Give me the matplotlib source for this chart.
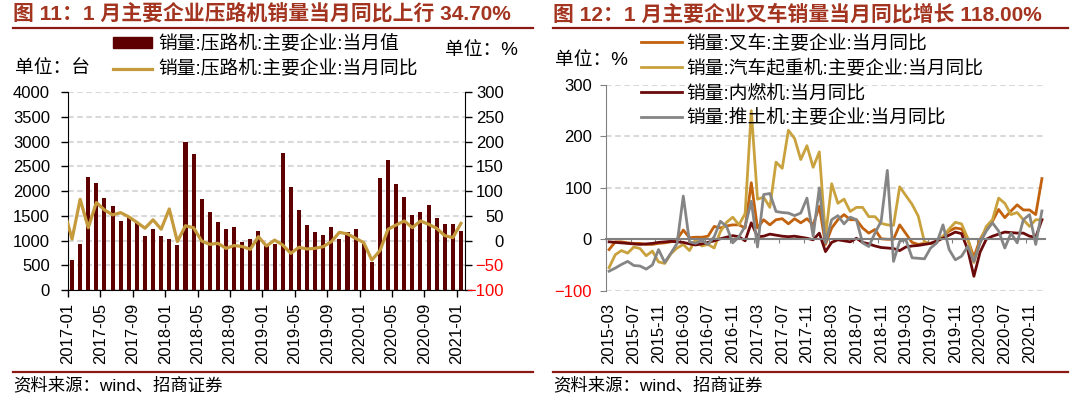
import numpy as np
import pandas as pd
import matplotlib
matplotlib.use("Agg")
import matplotlib.pyplot as plt
from matplotlib.lines import Line2D
from matplotlib.patches import Patch

plt.rcParams['font.family'] = ['Liberation Sans', 'Noto Sans CJK SC']

# ---- data: left chart (压路机), 2017-01 .. 2021-01 ----
roller_months = pd.date_range('2017-01', periods=49, freq='MS').strftime('%Y-%m').tolist()
roller_units = [614, 931, 2287, 2166, 1862, 1700, 1397, 1485, 1380, 1093, 1242, 1093,
                1032, 911, 2996, 2753, 1842, 1579, 1377, 1235, 1275, 972, 1032, 1194,
                890, 931, 2773, 2085, 1619, 1316, 1174, 1113, 1275, 1032, 1174, 1235,
                940, 574, 2267, 2632, 2146, 1883, 1518, 1579, 1721, 1457, 1336, 1336,
                1194]
# yoy line starts one month earlier (2016-12), it enters from the left axis
roller_yoy = [63,
              3, 83.5, 26, 77, 62, 52, 56.5, 48, 37, 25, 42, 23,
              64, -2, 30, 26, -1, -7.6, -5.5, -15.7, -10, -12, -17.7, 8,
              -11, 1, -9, -25.8, -13.6, -17, -15.7, -12.3, -2.2, 16.7, 13.4, 4.6,
              -4.2, -39.3, -20.4, 22.8, 31.6, 39.7, 26.2, 39.7, 33, 24.8, 10, 6,
              34.7]

# ---- data: right chart, 2015-03 .. 2021-01 ----
right_months = pd.date_range('2015-03', periods=71, freq='MS').strftime('%Y-%m').tolist()
forklift = [-20, -5, -5, -7, -8, -8, -10, -10, -8, -7, -5, 0, 18, 3, 4, 4, 6, 25, 22, 26, 28, 28, 22,
            110, 22, 38, 28, 38, 40, 30, 40, 32, 40, 28, 64, -10, 22, 38, 48, 38, 38, 22, 12, 19, 1, 0, 0,
            28, 11, -6, -10, -8, -8, -5, 6, 16, 22, 20, 0, -35, 0, 20, 35, 58, 42, 55, 67, 57, 57, 48, 118]
truck_crane = [-55, -30, -22, -27, -15, -18, -32, -23, -44, -47, -28, -17, -10, -22, 0, -13, -10, -17, 15, 33, 43, 28, 50,
               250, 78, 82, 62, 150, 138, 212, 196, 155, 182, 140, 170, 5, 108, 70, 78, 54, 62, 62, 44, 44, 31, 28, 27,
               102, 85, 68, 45, -5, -8, -5, 5, 20, 33, 30, 2, -45, -5, 25, 38, 80, 70, 48, 52, 38, 25, 38, 38]
engine = [-5, -6, -7, -8, -9, -10, -9, -8, -6, -5, -4, -5, -6, -9, -11, -9, -6, -3, 1, 4, 7, 5, -3,
          32, 5, 6, 10, 8, 6, 5, 6, 4, 2, -1, 12, -24, -6, -1, -3, -5, 2, -6, -9, -13, -16, -17, -18,
          -22, -15, -13, -12, -10, -8, -3, 2, 8, 14, 11, -20, -72, -25, 0, 6, 10, 14, 13, 12, 12, 6, 4, 38]
bulldozer = [-62, -56, -49, -43, -51, -52, -58, -50, -20, -45, -27, -8, 84, -5, -8, -2, -10, 5, 35, 25, -7, 5, 25,
             74, -15, 87, 89, 54, 52, 51, 46, 51, 80, 6, 100, -7, 38, 46, 30, 43, 38, -7, -14, 12, 35, 134, -43,
             -4, -1, -36, -37, -38, -17, -7, 28, -20, -40, -33, -14, -43, -7, 16, 32, 16, -17, 12, -7, 38, 48, -10, 55]

right_names = ['销量:叉车:主要企业:当月同比', '销量:汽车起重机:主要企业:当月同比',
               '销量:内燃机:当月同比', '销量:推土机:主要企业:当月同比']
right_colors = ['#C2620F', '#C9A23E', '#6B0A0A', '#858585']

title_left = '图 11：1 月主要企业压路机销量当月同比上行 34.70%'
title_right = '图 12：1 月主要企业叉车销量当月同比增长 118.00%'
source = '资料来源：wind、招商证券'

W, H = 1071, 399
fig = plt.figure(figsize=(W / 100, H / 100), dpi=100)


def fx(px):
    return px / W


def fy(py):
    return 1 - py / H


title_color = '#A3341F'
rule_color = '#8C1A14'
grid_kw = dict(color='#D9D9D9', linestyle=(0, (2.7, 1.7)), linewidth=1.5)
leg_fs = 13.5

# ---------------- left chart ----------------
ax1 = fig.add_axes([fx(68), fy(290), fx(465 - 68), (290 - 92.3) / H])
xl = np.arange(len(roller_units))
ax1.bar(xl, roller_units, width=0.5, color='#5E0000', zorder=2)
ax1.set_xlim(-0.5, len(roller_units) - 0.5)
ax1.set_ylim(0, 4000)
ax1.set_yticks(range(0, 4001, 500))
ax1.yaxis.grid(True, **grid_kw)
ax1.set_axisbelow(True)
ax1.set_xticks(np.arange(-0.5, len(roller_units), 4), roller_months[::4], rotation=90)
ax1.tick_params(axis='x', length=5, width=1, pad=4, labelsize=12)
ax1.tick_params(axis='y', length=5, width=1, pad=8, labelsize=12)
for s in ['top', 'right']:
    ax1.spines[s].set_visible(False)

ax2 = ax1.twinx()
ax2.plot(np.arange(-1, len(roller_units)), roller_yoy, color='#C49A3C', lw=2.3, zorder=3)
ax2.set_ylim(-100, 300)
ax2.set_xlim(-0.5, len(roller_units) - 0.5)
ax2.set_yticks(range(-100, 301, 50))
ax2.tick_params(axis='y', length=5, width=1, pad=23, labelsize=12)
for lab in ax2.get_yticklabels():
    lab.set_ha('right')
    if lab.get_text().startswith('−') or lab.get_text().startswith('-'):
        lab.set_color('red')
for s in ['top', 'left', 'bottom']:
    ax2.spines[s].set_visible(False)

fig.legend([Patch(color='#5E0000'), Line2D([], [], color='#C49A3C', lw=2.3)],
           ['销量:压路机:主要企业:当月值', '销量:压路机:主要企业:当月同比'],
           loc='upper left', bbox_to_anchor=(fx(113), fy(35)), frameon=False,
           fontsize=leg_fs, handlelength=2.1, handleheight=0.5, handletextpad=0.3,
           borderpad=0, borderaxespad=0, labelspacing=0.4)
fig.text(fx(15), fy(69), '单位：台', fontsize=leg_fs, va='center')
fig.text(fx(445), fy(51), '单位：%', fontsize=leg_fs, va='center')

# ---------------- right chart ----------------
ax3 = fig.add_axes([fx(606), fy(290.7), fx(1045 - 606), 205.7 / H])
xr = np.arange(len(forklift))
for ys, c in zip([forklift, truck_crane, engine, bulldozer], right_colors):
    ax3.plot(xr, ys, color=c, lw=2.0)
ax3.set_xlim(-0.5, len(forklift) - 0.5)
ax3.set_ylim(-100, 300)
ax3.set_yticks(range(-100, 301, 100))
ax3.yaxis.grid(True, **grid_kw)
ax3.set_axisbelow(True)
ax3.spines['bottom'].set_position(('data', 0))
ax3.spines['bottom'].set_color('#808080')
ax3.spines['bottom'].set_linewidth(1.5)
ax3.spines['left'].set_color('#808080')
for s in ['top', 'right']:
    ax3.spines[s].set_visible(False)
ax3.set_xticks(np.arange(-0.5, len(forklift), 4), [])
ax3.tick_params(axis='x', length=3, color='#808080')
ax3.tick_params(axis='y', length=4, color='#808080', pad=6, labelsize=12)
for lab in ax3.get_yticklabels():
    if lab.get_text().startswith('−') or lab.get_text().startswith('-'):
        lab.set_color('red')
for i in range(0, len(right_months), 4):
    ax3.text(i, -0.058, right_months[i], transform=ax3.get_xaxis_transform(),
             rotation=90, ha='center', va='top', fontsize=12)

fig.legend([Line2D([], [], color=c, lw=2.0) for c in right_colors], right_names,
           loc='upper left', bbox_to_anchor=(fx(641), fy(35)), frameon=False,
           fontsize=leg_fs, handlelength=2.2, handletextpad=0.2,
           borderpad=0, borderaxespad=0, labelspacing=0.37)
fig.text(fx(555), fy(60), '单位：%', fontsize=leg_fs, va='center')

# ---------------- titles, rules, sources ----------------
for x0, x1, t in [(13, 533, title_left), (553, 1068, title_right)]:
    fig.text(fx(x0), fy(14), t, fontsize=15, weight='bold', color=title_color, va='center')
    for yy in (28, 372):
        fig.add_artist(Line2D([fx(x0), fx(x1)], [fy(yy), fy(yy)], color=rule_color, lw=1.6))
    fig.text(fx(x0), fy(385), source, fontsize=12.5, va='center')

fig.savefig('out.png', dpi=100)
